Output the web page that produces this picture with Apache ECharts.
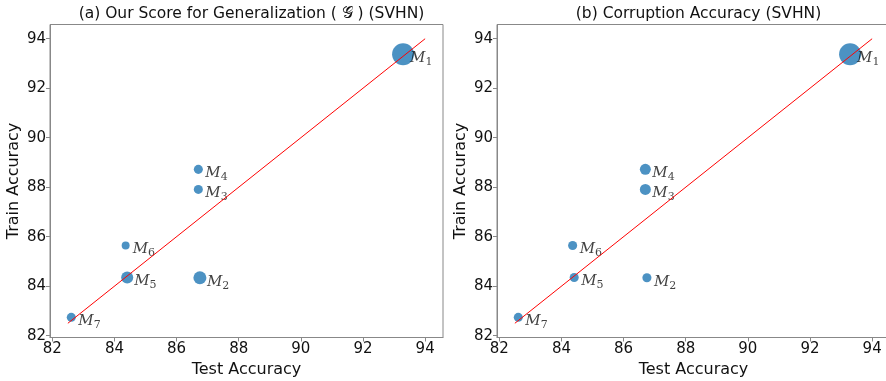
<!DOCTYPE html>
<html>
<head>
<meta charset="utf-8">
<script src="https://cdn.jsdelivr.net/npm/echarts@6/dist/echarts.min.js"></script>
<style>html,body{margin:0;padding:0;background:#fff}#c{width:886px;height:381px}</style>
</head>
<body>
<div id="c"></div>
<script>
// ---- data ----
var modelNames = ['1', '2', '3', '4', '5', '6', '7'];
var testAcc  = [93.29, 86.75, 86.70, 86.70, 84.41, 84.36, 82.61];
var trainAcc = [93.37, 84.34, 87.91, 88.72, 84.35, 85.64, 82.74];
var scoreA = [100, 35, 17, 17, 30, 13, 17];   // our score (panel a), marker area
var scoreB = [100, 17, 25, 25, 17, 17, 17];   // corruption acc (panel b), marker area
var fitLine = [[82.5, 82.5], [94, 94]];
var tickValues = [82, 84, 86, 88, 90, 92, 94];
var titles = ['(a) Our Score for Generalization ( \uD835\uDCA2 ) (SVHN)', '(b) Corruption Accuracy (SVHN)'];

var chart = echarts.init(document.getElementById('c'));
var AX = '#888';
var TXT = '#111';
function xAx(i) {
  return {
    gridIndex: i, type: 'value', min: 81.925, max: 94.575,
    name: 'Test Accuracy', nameLocation: 'middle', nameGap: 23,
    nameTextStyle: {fontFamily: 'DejaVu Sans', fontSize: 16, color: TXT},
    axisLine: {show: true, lineStyle: {color: AX}},
    axisTick: {show: true, inside: false, length: 4, lineStyle: {color: AX}, customValues: tickValues},
    axisLabel: {fontFamily: 'DejaVu Sans', fontSize: 15, color: TXT, margin: 4, customValues: tickValues},
    splitLine: {show: false}
  };
}
function yAx(i) {
  return {
    gridIndex: i, type: 'value', min: 81.925, max: 94.575,
    name: 'Train Accuracy', nameLocation: 'middle', nameGap: 28,
    nameTextStyle: {fontFamily: 'DejaVu Sans', fontSize: 16, color: TXT},
    axisLine: {show: true, lineStyle: {color: AX}},
    axisTick: {show: true, inside: false, length: 4, lineStyle: {color: AX}, customValues: tickValues},
    axisLabel: {fontFamily: 'DejaVu Sans', fontSize: 15, color: TXT, margin: 4, customValues: tickValues},
    splitLine: {show: false}
  };
}
function pts(scores) {
  return testAcc.map(function (x, k) {
    return {value: [x, trainAcc[k], scores[k]], name: modelNames[k]};
  });
}
function scatter(i, scores) {
  return {
    type: 'scatter', xAxisIndex: i, yAxisIndex: i, z: 3,
    data: pts(scores),
    symbolSize: function (v) { return 2.2 * Math.sqrt(v[2]); },
    itemStyle: {color: '#1f77b4', opacity: 0.8},
    label: {
      show: true, position: 'inside', align: 'left', verticalAlign: 'middle',
      offset: [7, 4],
      formatter: function (p) { return '{m|M}{s|' + p.name + '}'; },
      rich: {
        m: {fontFamily: 'DejaVu Serif', fontStyle: 'italic', fontSize: 15, color: TXT},
        s: {fontFamily: 'DejaVu Serif', fontSize: 11, color: TXT, padding: [8, 0, 0, 0]}
      }
    }
  };
}
function line(i) {
  return {
    type: 'line', xAxisIndex: i, yAxisIndex: i, data: fitLine, symbol: 'none', z: 4,
    lineStyle: {color: '#ff0000', width: 1}, silent: true
  };
}
chart.setOption({
  animation: false,
  title: [
    {text: titles[0], left: 246.5, top: 1, textAlign: 'center',
     textStyle: {fontFamily: 'DejaVu Sans', fontSize: 15.5, fontWeight: 'normal', color: TXT}},
    {text: titles[1], left: 693.5, top: 1, textAlign: 'center',
     textStyle: {fontFamily: 'DejaVu Sans', fontSize: 15.5, fontWeight: 'normal', color: TXT}}
  ],
  grid: [
    {left: 50, top: 24.5, width: 393, height: 313, show: true, borderColor: AX, borderWidth: 1,
     containLabel: false, outerBoundsMode: 'none'},
    {left: 497, top: 24.5, width: 393, height: 313, show: true, borderColor: AX, borderWidth: 1,
     containLabel: false, outerBoundsMode: 'none'}
  ],
  xAxis: [xAx(0), xAx(1)],
  yAxis: [yAx(0), yAx(1)],
  series: [line(0), scatter(0, scoreA), line(1), scatter(1, scoreB)]
});
</script>
</body>
</html>
